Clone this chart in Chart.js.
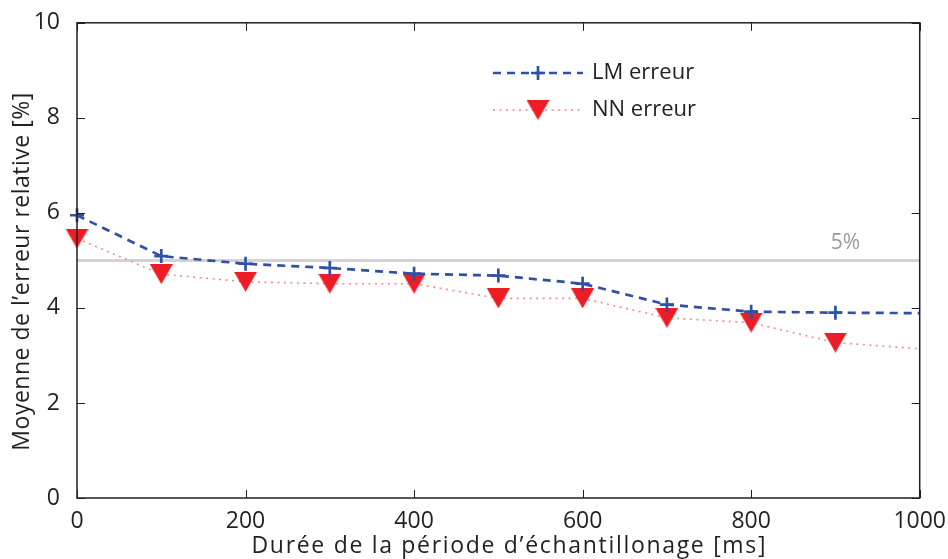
<!DOCTYPE html>
<html>
<head>
<meta charset="utf-8">
<script src="https://cdn.jsdelivr.net/npm/chart.js@4.4.1/dist/chart.umd.min.js"></script>
<style>
  html, body { margin: 0; padding: 0; background: #ffffff; }
  #wrap { width: 948px; height: 559px; position: relative; }
</style>
</head>
<body>
<div id="wrap"><canvas id="c" width="948" height="559"></canvas></div>
<script>
// ---- data ----
const durees = [0, 100, 200, 300, 400, 500, 600, 700, 800, 900, 1000];
const lmErreur = [5.95, 5.09, 4.93, 4.84, 4.72, 4.68, 4.51, 4.07, 3.92, 3.90, 3.89];
const nnErreur = [5.46, 4.71, 4.55, 4.51, 4.51, 4.20, 4.20, 3.79, 3.69, 3.27, 3.14];
const seuilX = [0, 1000];
const seuilY = [5, 5];
const seuilLabel = '5%';
const xTicks = [0, 200, 400, 600, 800, 1000];
const yTicks = [0, 2, 4, 6, 8, 10];
const legendLabels = ['LM erreur', 'NN erreur'];
const xTitle = 'Durée de la période d\u2019échantillonage [ms]';
const yTitle = 'Moyenne de l\u2019erreur relative [%]';

// ---- styles ----
const FONT = '"Open Sans", "Noto Sans", sans-serif';
const TEXT = '#231f20';
const BLUE = '#3050a4';
const RED = '#ee1c25';
const PINK = '#f08c8c';
const GRAY = '#d2d2d2';

// triangle marker image centered on its bounding box
function makeTriangle() {
  const c = document.createElement('canvas');
  c.width = 23; c.height = 20;
  const g = c.getContext('2d');
  g.fillStyle = RED;
  g.beginPath();
  g.moveTo(0, 0); g.lineTo(23, 0); g.lineTo(11.5, 20); g.closePath();
  g.fill();
  return c;
}
const triImg = makeTriangle();

const lastIdx = durees.length - 1;

function fitText(ctx, text, x, y, targetWidth) {
  const natural = ctx.measureText(text).width;
  const n = Math.max(1, text.length - 1);
  const sp = (targetWidth - natural) / n;
  if ('letterSpacing' in ctx && sp > 0) {
    ctx.letterSpacing = sp.toFixed(2) + 'px';
  }
  ctx.fillText(text, x, y);
  if ('letterSpacing' in ctx) ctx.letterSpacing = '0px';
}

const framePlugin = {
  id: 'frame',
  afterDatasetsDraw(chart) {
    const { ctx, chartArea: a, scales } = chart;
    ctx.save();
    // 5% label
    ctx.fillStyle = '#9a9a9a';
    ctx.font = '21px ' + FONT;
    ctx.textAlign = 'center';
    ctx.textBaseline = 'middle';
    ctx.fillText(seuilLabel, scales.x.getPixelForValue(912), scales.y.getPixelForValue(5) - 17);

    // frame
    ctx.strokeStyle = TEXT;
    ctx.lineWidth = 1.5;
    ctx.strokeRect(a.left, a.top, a.right - a.left, a.bottom - a.top);
    // inward ticks
    const tl = 8;
    ctx.lineWidth = 1;
    ctx.beginPath();
    xTicks.forEach(v => {
      const px = Math.round(scales.x.getPixelForValue(v)) + 0.5;
      ctx.moveTo(px, a.bottom); ctx.lineTo(px, a.bottom - tl);
      ctx.moveTo(px, a.top); ctx.lineTo(px, a.top + tl);
    });
    yTicks.forEach(v => {
      const py = Math.round(scales.y.getPixelForValue(v)) + 0.5;
      ctx.moveTo(a.left, py); ctx.lineTo(a.left + tl, py);
      ctx.moveTo(a.right, py); ctx.lineTo(a.right - tl, py);
    });
    ctx.stroke();

    // legend
    const lx0 = 493, lx1 = 583, mx = 538;
    const rows = [73, 110];
    ctx.strokeStyle = BLUE; ctx.lineWidth = 2.7; ctx.setLineDash([8, 6]);
    ctx.beginPath(); ctx.moveTo(lx0, rows[0]); ctx.lineTo(lx1, rows[0]); ctx.stroke();
    ctx.setLineDash([]);
    ctx.beginPath();
    ctx.moveTo(mx - 7, rows[0]); ctx.lineTo(mx + 7, rows[0]);
    ctx.moveTo(mx, rows[0] - 7); ctx.lineTo(mx, rows[0] + 7);
    ctx.stroke();
    ctx.strokeStyle = PINK; ctx.lineWidth = 1.6; ctx.setLineDash([2, 4.5]);
    ctx.beginPath(); ctx.moveTo(lx0, rows[1]); ctx.lineTo(lx1, rows[1]); ctx.stroke();
    ctx.setLineDash([]);
    ctx.drawImage(triImg, mx - triImg.width / 2, rows[1] - triImg.height / 2);
    ctx.fillStyle = TEXT;
    ctx.font = '22px ' + FONT;
    ctx.textAlign = 'left';
    ctx.textBaseline = 'middle';
    ctx.fillText(legendLabels[0], 592, rows[0]);
    ctx.fillText(legendLabels[1], 592, rows[1]);

    // axis titles
    ctx.fillStyle = TEXT;
    ctx.textAlign = 'center';
    ctx.textBaseline = 'middle';
    ctx.font = '23px ' + FONT;
    fitText(ctx, xTitle, (a.left + a.right) / 2 + 11, 546, 514);
    ctx.save();
    ctx.translate(22, (a.top + a.bottom) / 2 + 11);
    ctx.rotate(-Math.PI / 2);
    ctx.font = '23px ' + FONT;
    fitText(ctx, yTitle, 0, 0, 358);
    ctx.restore();
    ctx.restore();
  }
};

const toXY = (xs, ys) => xs.map((x, i) => ({ x: x, y: ys[i] }));

new Chart(document.getElementById('c'), {
  type: 'line',
  data: {
    datasets: [
      {
        label: legendLabels[0],
        data: toXY(durees, lmErreur),
        borderColor: BLUE,
        borderWidth: 2.7,
        borderDash: [8, 6],
        pointStyle: 'cross',
        pointRadius: c => c.dataIndex === lastIdx ? 0 : 7,
        pointBorderColor: BLUE,
        pointBorderWidth: 2.7,
        pointHoverRadius: 7,
        fill: false,
        tension: 0,
        clip: false,
        order: 1
      },
      {
        label: legendLabels[1],
        data: toXY(durees, nnErreur),
        borderColor: PINK,
        borderWidth: 1.6,
        borderDash: [2, 4.5],
        pointStyle: triImg,
        pointRadius: c => c.dataIndex === lastIdx ? 0 : 12,
        pointHoverRadius: 12,
        fill: false,
        tension: 0,
        clip: false,
        order: 2
      },
      {
        label: 'seuil',
        data: toXY(seuilX, seuilY),
        borderColor: GRAY,
        borderWidth: 3,
        pointRadius: 0,
        fill: false,
        order: 3
      }
    ]
  },
  options: {
    responsive: false,
    animation: false,
    events: [],
    layout: { padding: { top: 21, right: 28, left: 0, bottom: 0 } },
    plugins: { legend: { display: false }, tooltip: { enabled: false } },
    scales: {
      x: {
        type: 'linear',
        min: 0, max: 1000,
        afterBuildTicks: s => { s.ticks = xTicks.map(v => ({ value: v })); },
        afterFit: s => { s.height = 61; },
        grid: { display: false },
        border: { display: false },
        ticks: { color: TEXT, font: { family: FONT, size: 23 }, padding: 2, maxRotation: 0,
                 callback: v => String(v) },
        title: { display: false }
      },
      y: {
        type: 'linear',
        min: 0, max: 10,
        afterBuildTicks: s => { s.ticks = yTicks.map(v => ({ value: v })); },
        afterFit: s => { s.width = 77; },
        grid: { display: false },
        border: { display: false },
        ticks: { color: TEXT, font: { family: FONT, size: 23 }, padding: 9,
                 callback: v => String(v) },
        title: { display: false }
      }
    }
  },
  plugins: [framePlugin]
});
</script>
</body>
</html>
